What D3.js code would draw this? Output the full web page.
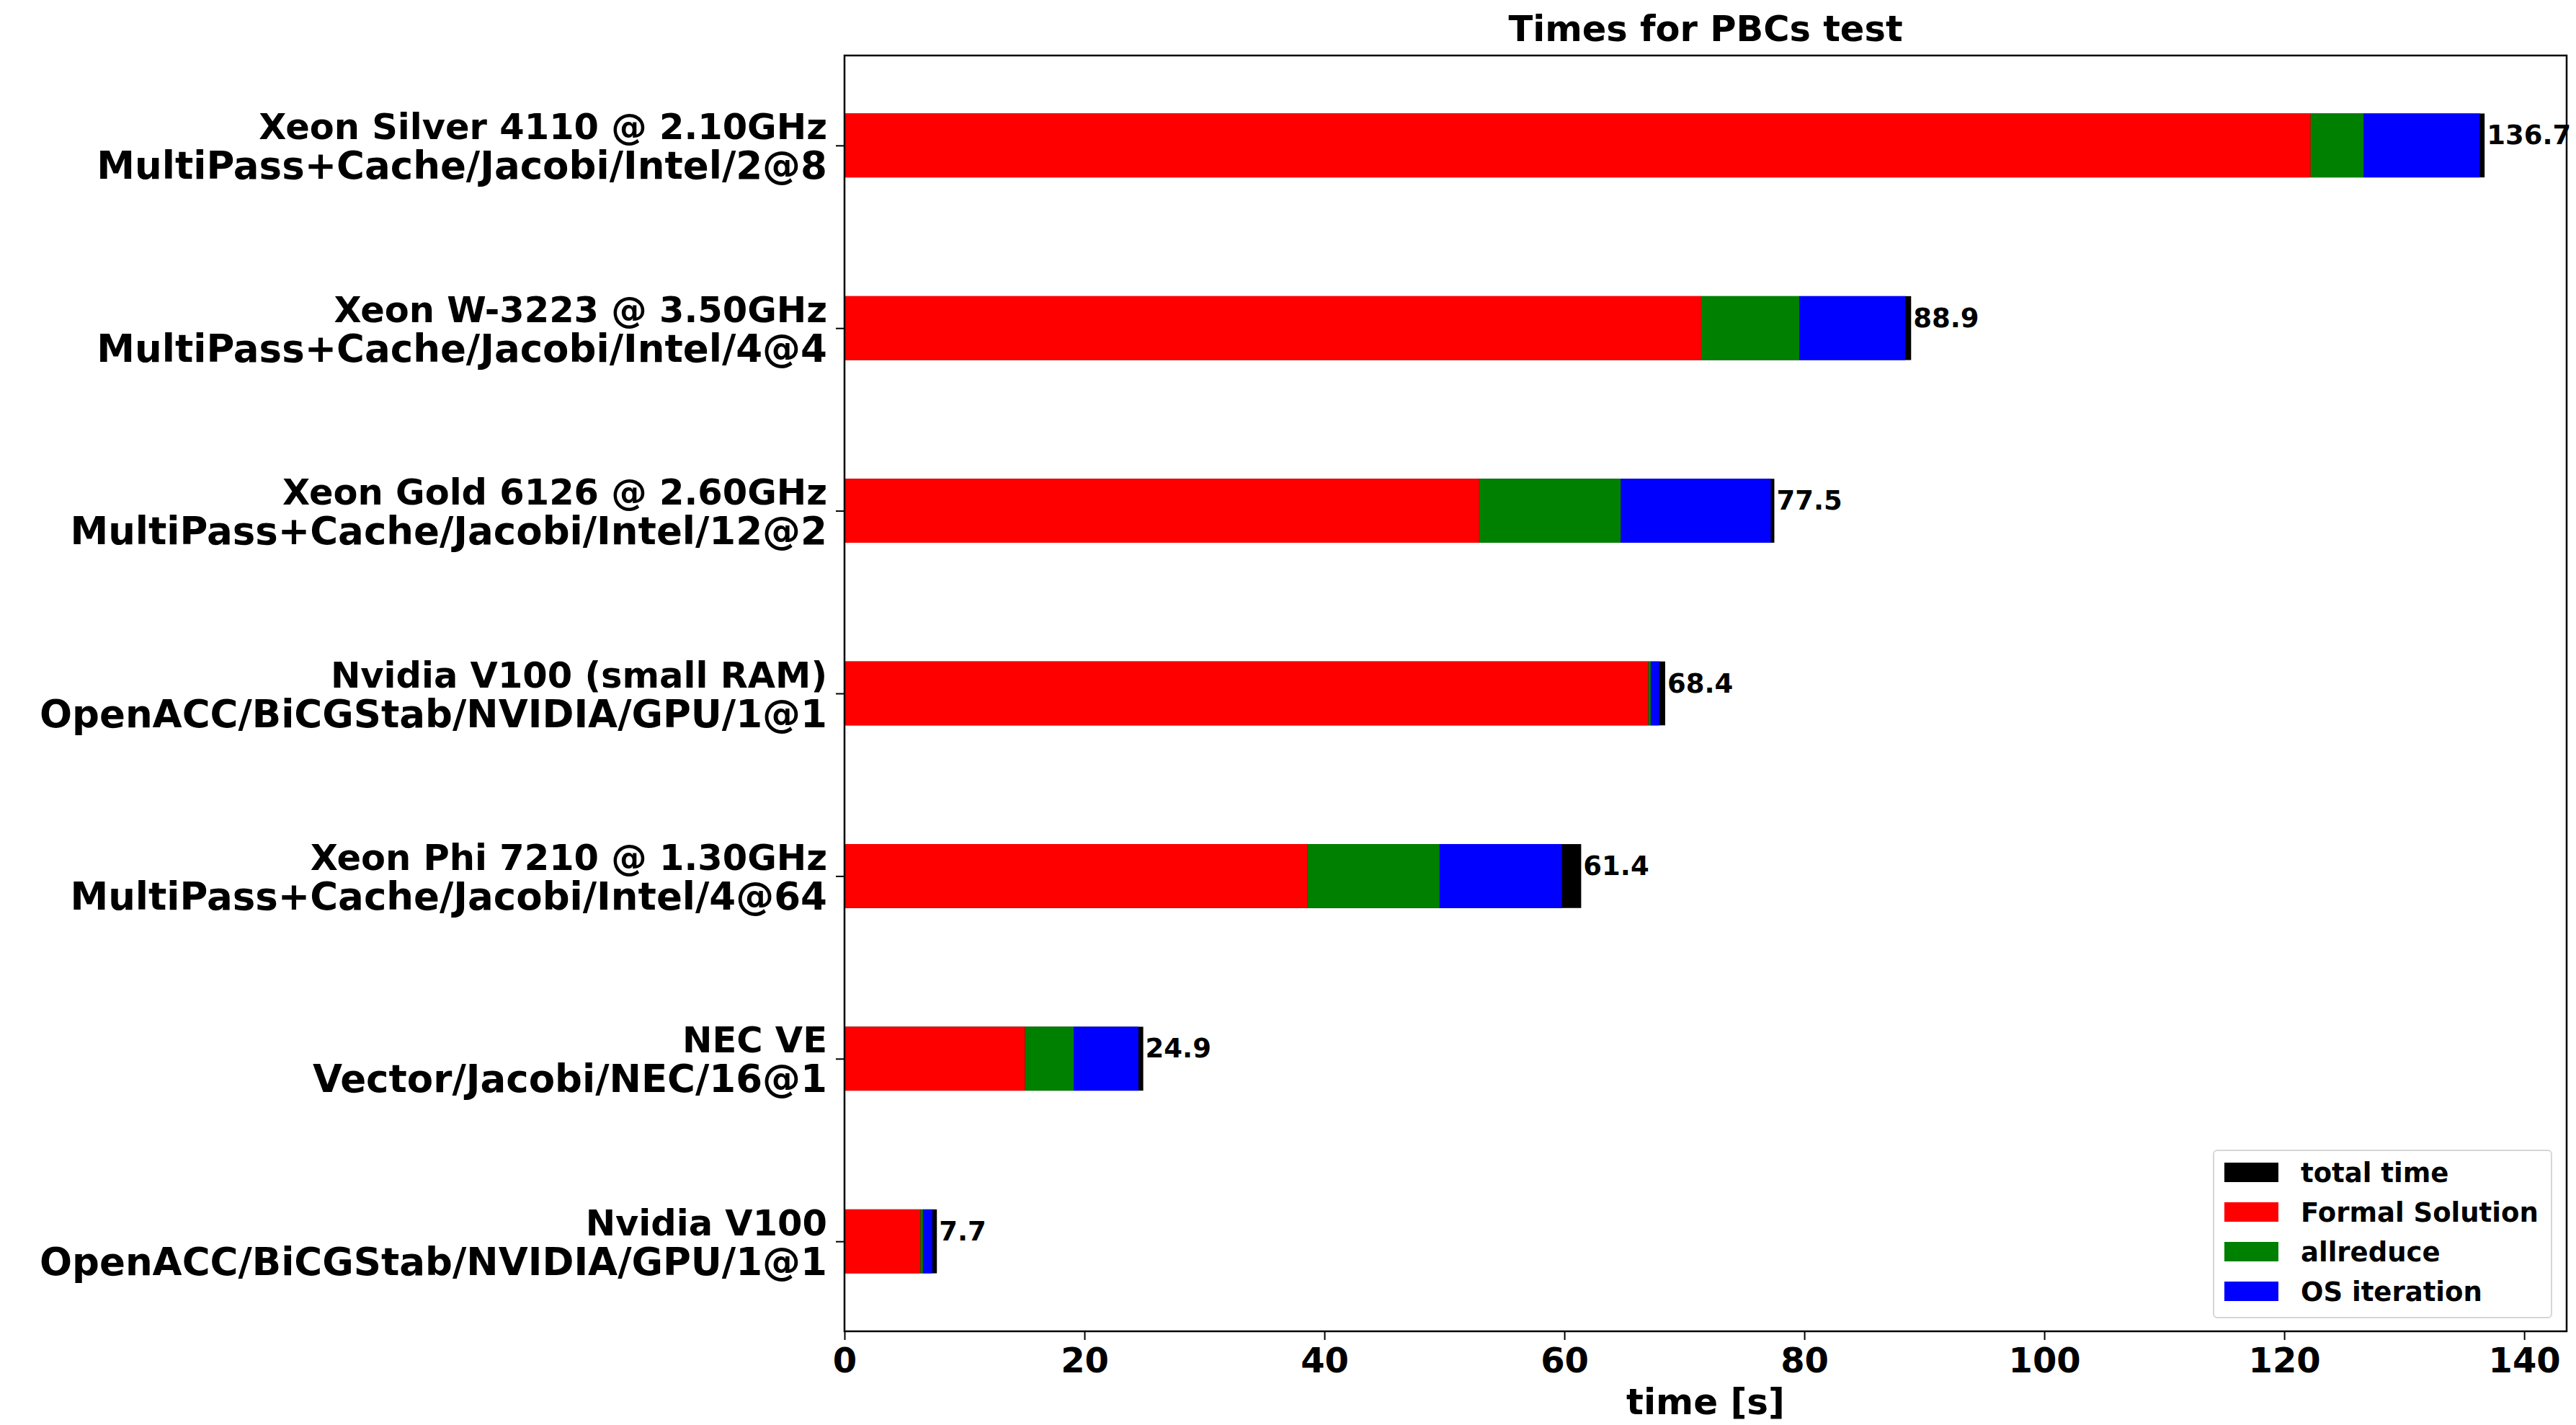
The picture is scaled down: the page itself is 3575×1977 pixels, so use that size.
<!DOCTYPE html>
<html>
<head>
<meta charset="utf-8">
<script src="https://cdn.jsdelivr.net/npm/d3@7"></script>
<style>
  body { margin: 0; background: #fff; }
  text { font-family: "DejaVu Sans", sans-serif; font-weight: bold; }
</style>
</head>
<body>
<svg id="chart"></svg>
<script>
// chart data, top row first
const cpuNames = [
  "Xeon Silver 4110 @ 2.10GHz",
  "Xeon W-3223 @ 3.50GHz",
  "Xeon Gold 6126 @ 2.60GHz",
  "Nvidia V100 (small RAM)",
  "Xeon Phi 7210 @ 1.30GHz",
  "NEC VE",
  "Nvidia V100"
];
const setups = [
  "MultiPass+Cache/Jacobi/Intel/2@8",
  "MultiPass+Cache/Jacobi/Intel/4@4",
  "MultiPass+Cache/Jacobi/Intel/12@2",
  "OpenACC/BiCGStab/NVIDIA/GPU/1@1",
  "MultiPass+Cache/Jacobi/Intel/4@64",
  "Vector/Jacobi/NEC/16@1",
  "OpenACC/BiCGStab/NVIDIA/GPU/1@1"
];
const totalTime     = [136.7, 88.9, 77.5, 68.4, 61.4, 24.9, 7.7];
const formalSolution = [122.2, 71.4, 52.9, 67.0, 38.6, 15.05, 6.33];
const allreduce     = [4.4, 8.2, 11.8, 0.2, 11.0, 4.05, 0.21];
const osIteration   = [9.7, 8.8, 12.5, 0.7, 10.2, 5.4, 0.78];
const xTicks = [0, 20, 40, 60, 80, 100, 120, 140];
const legendLabels = ["total time", "Formal Solution", "allreduce", "OS iteration"];
const legendColors = ["#000000", "#ff0000", "#008000", "#0000ff"];

const W = 3575, H = 1977;
const plotLeft = 1172, plotRight = 3562, plotTop = 77, plotBottom = 1847;
const n = cpuNames.length;
const barH = 0.35;

let svg = d3.select("#chart").attr("width", W).attr("height", H);

let x = d3.scaleLinear()
  .domain([0, d3.max(totalTime) * 1.05])
  .range([plotLeft, plotRight]);

// matplotlib style y: row index counted from the bottom
let y = d3.scaleLinear()
  .domain([-barH / 2 - 0.05 * (n - 1 + barH), n - 1 + barH / 2 + 0.05 * (n - 1 + barH)])
  .range([plotBottom, plotTop]);
const rowPos = i => n - 1 - i;

let rows = cpuNames.map((name, i) => ({
  i: i,
  total: totalTime[i],
  segs: [
    { start: 0, w: formalSolution[i], color: legendColors[1] },
    { start: formalSolution[i], w: allreduce[i], color: legendColors[2] },
    { start: formalSolution[i] + allreduce[i], w: osIteration[i], color: legendColors[3] }
  ]
}));

let g = svg.append("g");

// total time bar below the stacked parts
g.selectAll("rect.total")
  .data(rows)
  .join("rect")
  .attr("class", "total")
  .attr("x", x(0))
  .attr("y", d => y(rowPos(d.i) + barH / 2))
  .attr("width", d => x(d.total) - x(0))
  .attr("height", y(0) - y(barH))
  .attr("fill", legendColors[0]);

rows.forEach(r => {
  g.selectAll(null)
    .data(r.segs)
    .join("rect")
    .attr("x", d => x(d.start))
    .attr("y", y(rowPos(r.i) + barH / 2))
    .attr("width", d => x(d.start + d.w) - x(d.start))
    .attr("height", y(0) - y(barH))
    .attr("fill", d => d.color);
});

g.selectAll("text.val")
  .data(rows)
  .join("text")
  .attr("class", "val")
  .attr("x", d => x(d.total) + 3)
  .attr("y", d => y(rowPos(d.i)) - 14)
  .attr("dominant-baseline", "central")
  .attr("font-size", 37)
  .text(d => d.total.toFixed(1));

// axes
let xAxis = svg.append("g")
  .attr("transform", `translate(0,${plotBottom})`)
  .call(d3.axisBottom(x).tickValues(xTicks).tickFormat(d3.format("d")).tickSize(12).tickPadding(11));
xAxis.select(".domain").remove();
xAxis.selectAll(".tick line").attr("stroke-width", 2);
xAxis.selectAll(".tick text").attr("font-size", 48).attr("fill", "#000");

let yAxis = svg.append("g")
  .attr("transform", `translate(${plotLeft},0)`)
  .call(d3.axisLeft(y).tickValues(d3.range(n)).tickSize(12).tickFormat(""));
yAxis.select(".domain").remove();
yAxis.selectAll(".tick line").attr("stroke-width", 2);
yAxis.selectAll(".tick")
  .append("text")
  .attr("x", -24)
  .attr("text-anchor", "end")
  .attr("fill", "#000")
  .each(function(v) {
    let i = n - 1 - v;
    let t = d3.select(this);
    t.append("tspan").attr("x", -24).attr("y", -9).attr("font-size", 49.5).text(cpuNames[i]);
    t.append("tspan").attr("x", -24).attr("y", 46).attr("font-size", 53).text(setups[i]);
  });

// frame
svg.append("rect")
  .attr("x", plotLeft).attr("y", plotTop)
  .attr("width", plotRight - plotLeft).attr("height", plotBottom - plotTop)
  .attr("fill", "none").attr("stroke", "#000").attr("stroke-width", 2.5);

svg.append("text")
  .attr("x", (plotLeft + plotRight) / 2)
  .attr("y", 57)
  .attr("text-anchor", "middle")
  .attr("font-size", 49.5)
  .text("Times for PBCs test");

svg.append("text")
  .attr("x", (plotLeft + plotRight) / 2)
  .attr("y", 1962)
  .attr("text-anchor", "middle")
  .attr("font-size", 50)
  .text("time [s]");

// legend
let leg = svg.append("g").attr("transform", "translate(3072,1596)");
leg.append("rect")
  .attr("width", 469).attr("height", 232)
  .attr("rx", 5)
  .attr("fill", "#fff").attr("fill-opacity", 0.8)
  .attr("stroke", "#d6d6d6").attr("stroke-width", 2);
let items = leg.selectAll("g.item")
  .data(legendLabels)
  .join("g")
  .attr("class", "item")
  .attr("transform", (d, i) => `translate(15,${17 + i * 55})`);
items.append("rect")
  .attr("width", 75).attr("height", 27)
  .attr("fill", (d, i) => legendColors[i]);
items.append("text")
  .attr("x", 106)
  .attr("y", 14)
  .attr("dominant-baseline", "central")
  .attr("font-size", 37)
  .text(d => d);
</script>
</body>
</html>
